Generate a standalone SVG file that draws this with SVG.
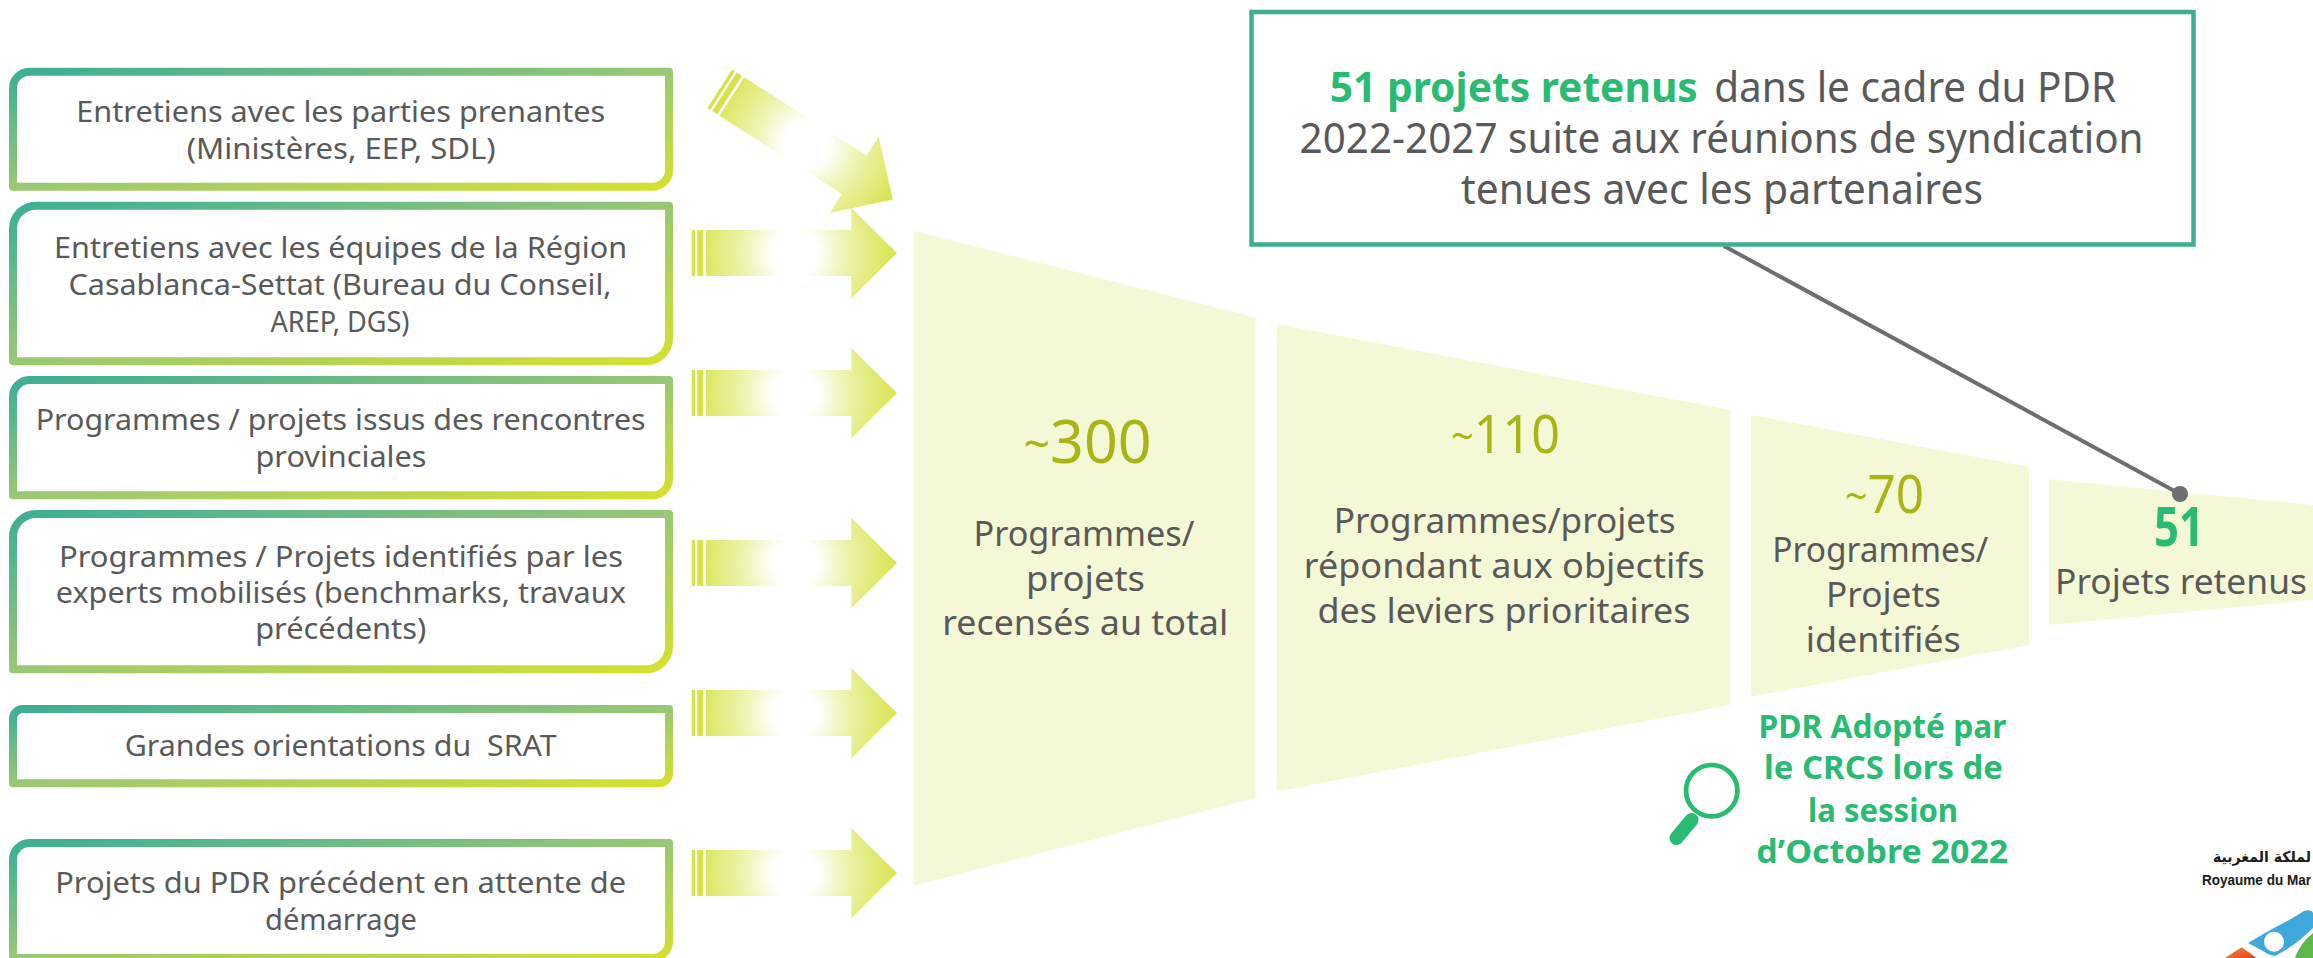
<svg xmlns="http://www.w3.org/2000/svg" width="2313" height="958" viewBox="0 0 2313 958">
<style>
text{font-family:"Noto Sans","Open Sans","DejaVu Sans",sans-serif;white-space:pre;text-anchor:middle}
.b{font-size:29.5px;fill:#595959}
.c{font-size:42px;fill:#595959}
.l{font-size:35px;fill:#595959}
.n{fill:#A9B515}
.g{fill:#2ABB72;font-weight:700}
.box{fill:#fff;stroke:url(#bg);stroke-width:8;stroke-linejoin:round}
.seg{fill:#F4F8D6}
.st{fill:#D8E145}
</style>
<defs>
<linearGradient id="bg" x1="0" y1="0" x2="1" y2="1">
<stop offset="0" stop-color="#3DAE95"/><stop offset=".5" stop-color="#98C874"/><stop offset="1" stop-color="#D6E02E"/>
</linearGradient>
<radialGradient id="ag" gradientUnits="userSpaceOnUse" cx="103" cy="0" r="103">
<stop offset="0" stop-color="#fff"/><stop offset=".22" stop-color="#fff"/><stop offset=".5" stop-color="#EEF3B0"/><stop offset=".85" stop-color="#DFE768"/><stop offset="1" stop-color="#D9E24A"/>
</radialGradient>
<g id="arrow">
<rect class="st" x="0" y="-22.9" width="3.3" height="45.8"/>
<rect class="st" x="5.6" y="-22.9" width="6" height="45.8"/>
<path fill="url(#ag)" d="M14.3-22.9H159.6V-45.3L205.3 0 159.6 45.3V22.9H14.3Z"/>
</g>
<linearGradient id="lg" x1="0" y1="0" x2="1" y2="1"><stop offset="0" stop-color="#F28C2E"/><stop offset="1" stop-color="#E2402B"/></linearGradient>
</defs>

<g id="funnel-1"><path class="seg" d="M913.9 230.8L1255.4 317.6V798L913.9 885.6Z"/>
<text class="n" x="1087.5" y="462.8" font-size="61" textLength="128" lengthAdjust="spacingAndGlyphs"><tspan font-size="48" dy="-2">~</tspan><tspan dy="2">300</tspan></text>
<text class="l" x="1084" y="546" textLength="221" lengthAdjust="spacingAndGlyphs">Programmes/</text>
<text class="l" x="1085.5" y="590.8" textLength="119" lengthAdjust="spacingAndGlyphs">projets</text>
<text class="l" x="1085.2" y="635.4" textLength="286" lengthAdjust="spacingAndGlyphs">recensés au total</text></g>

<g id="funnel-2"><path class="seg" d="M1276.7 324L1730.3 410V705L1276.7 791.5Z"/>
<text class="n" x="1505.5" y="453.3" font-size="53" textLength="109" lengthAdjust="spacingAndGlyphs"><tspan font-size="42" dy="-2">~</tspan><tspan dy="2">110</tspan></text>
<text class="l" x="1504.7" y="533" textLength="342" lengthAdjust="spacingAndGlyphs">Programmes/projets</text>
<text class="l" x="1504.3" y="577.8" textLength="401" lengthAdjust="spacingAndGlyphs">répondant aux objectifs</text>
<text class="l" x="1504" y="623" textLength="373" lengthAdjust="spacingAndGlyphs">des leviers prioritaires</text></g>

<g id="funnel-3"><path class="seg" d="M1751.3 415L2029 466.7V645L1751.3 696.7Z"/>
<text class="n" x="1884.5" y="513.3" font-size="53" textLength="79" lengthAdjust="spacingAndGlyphs"><tspan font-size="42" dy="-2">~</tspan><tspan dy="2">70</tspan></text>
<text class="l" x="1880.3" y="561.7" textLength="216" lengthAdjust="spacingAndGlyphs">Programmes/</text>
<text class="l" x="1883.5" y="606.7" textLength="115" lengthAdjust="spacingAndGlyphs">Projets</text>
<text class="l" x="1883.2" y="651.7" textLength="155" lengthAdjust="spacingAndGlyphs">identifiés</text></g>

<g id="funnel-4"><path class="seg" d="M2049 479.3L2313 505V600L2049 625Z"/>
<text class="g" x="2179" y="546" font-size="53" textLength="50" lengthAdjust="spacingAndGlyphs">51</text>
<text class="l" x="2181" y="594" textLength="252" lengthAdjust="spacingAndGlyphs">Projets retenus</text></g>

<g id="connectors">
<use href="#arrow" transform="translate(719.8 88.8) rotate(32.6)"/>
<use href="#arrow" transform="translate(691.7 253)"/>
<use href="#arrow" transform="translate(691.7 393)"/>
<use href="#arrow" transform="translate(691.7 563)"/>
<use href="#arrow" transform="translate(691.7 713)"/>
<use href="#arrow" transform="translate(691.7 873)"/>
<path d="M1724 246L2180 494" stroke="#6D6E71" stroke-width="4" fill="none"/>
<circle cx="2180" cy="494" r="8" fill="#6D6E71"/>
</g>

<g id="source-1"><path class="box" d="M29.5 71.7H669V170.2A16.5 16.5 0 0 1 652.5 186.7H13V88.2A16.5 16.5 0 0 1 29.5 71.7Z"/>
<text class="b" x="340.8" y="121.7" textLength="529" lengthAdjust="spacingAndGlyphs">Entretiens avec les parties prenantes</text>
<text class="b" x="341.2" y="159.3" textLength="309" lengthAdjust="spacingAndGlyphs">(Ministères, EEP, SDL)</text></g>

<g id="source-2"><path class="box" d="M36 205.7H669V338.3A23 23 0 0 1 646 361.3H13V228.7A23 23 0 0 1 36 205.7Z"/>
<text class="b" x="340.6" y="257.7" textLength="573" lengthAdjust="spacingAndGlyphs">Entretiens avec les équipes de la Région</text>
<text class="b" x="340" y="295" textLength="543" lengthAdjust="spacingAndGlyphs">Casablanca-Settat (Bureau du Conseil,</text>
<text class="b" x="340" y="332" textLength="139" lengthAdjust="spacingAndGlyphs">AREP, DGS)</text></g>

<g id="source-3"><path class="box" d="M29.5 380H669V478.8A16.5 16.5 0 0 1 652.5 495.3H13V396.5A16.5 16.5 0 0 1 29.5 380Z"/>
<text class="b" x="340.7" y="430" textLength="610" lengthAdjust="spacingAndGlyphs">Programmes / projets issus des rencontres</text>
<text class="b" x="341" y="467" textLength="171" lengthAdjust="spacingAndGlyphs">provinciales</text></g>

<g id="source-4"><path class="box" d="M36 514H669V646.3A23 23 0 0 1 646 669.3H13V537A23 23 0 0 1 36 514Z"/>
<text class="b" x="341" y="566.7" textLength="564" lengthAdjust="spacingAndGlyphs">Programmes / Projets identifiés par les</text>
<text class="b" x="340.8" y="602.7" textLength="570" lengthAdjust="spacingAndGlyphs">experts mobilisés (benchmarks, travaux</text>
<text class="b" x="340.7" y="639.3" textLength="171" lengthAdjust="spacingAndGlyphs">précédents)</text></g>

<g id="source-5"><path class="box" d="M22.7 709H669V773.6A9.7 9.7 0 0 1 659.3 783.3H13V718.7A9.7 9.7 0 0 1 22.7 709Z"/>
<text class="b" x="340.7" y="756" textLength="432" lengthAdjust="spacingAndGlyphs">Grandes orientations du  SRAT</text></g>

<g id="source-6"><path class="box" d="M29.5 843H669V941.5A16.5 16.5 0 0 1 652.5 958H13V859.5A16.5 16.5 0 0 1 29.5 843Z"/>
<text class="b" x="340.7" y="893.3" textLength="571" lengthAdjust="spacingAndGlyphs">Projets du PDR précédent en attente de</text>
<text class="b" x="341" y="930" textLength="152" lengthAdjust="spacingAndGlyphs">démarrage</text></g>

<g id="callout"><rect x="1251.5" y="12" width="942" height="232.5" fill="#fff" stroke="#3FAE93" stroke-width="4.5"/>
<text class="c g" x="1513.8" y="101.7" textLength="368" lengthAdjust="spacingAndGlyphs">51 projets retenus</text>
<text class="c" x="1915.2" y="101.7" textLength="402" lengthAdjust="spacingAndGlyphs">dans le cadre du PDR</text>
<text class="c" x="1721.6" y="153.3" textLength="844" lengthAdjust="spacingAndGlyphs">2022-2027 suite aux réunions de syndication</text>
<text class="c" x="1722" y="204" textLength="522" lengthAdjust="spacingAndGlyphs">tenues avec les partenaires</text></g>

<g id="adoption">
<circle cx="1711.7" cy="790.7" r="25.7" fill="none" stroke="#2ABB72" stroke-width="4.7"/>
<path d="M1695 817L1691 821" stroke="#2ABB72" stroke-width="5" fill="none"/>
<path d="M1691.5 820L1676.5 838" stroke="#2ABB72" stroke-width="14" stroke-linecap="round" fill="none"/>
<text class="g" x="1882.5" y="738.3" font-size="32" textLength="248" lengthAdjust="spacingAndGlyphs">PDR Adopté par</text>
<text class="g" x="1883.5" y="779.3" font-size="32" textLength="239" lengthAdjust="spacingAndGlyphs">le CRCS lors de</text>
<text class="g" x="1883" y="821.7" font-size="32" textLength="150" lengthAdjust="spacingAndGlyphs">la session</text>
<text class="g" x="1882.3" y="863.3" font-size="32" textLength="252" lengthAdjust="spacingAndGlyphs">d’Octobre 2022</text></g>

<g id="logo">
<text x="2262" y="861.7" font-size="15" fill="#1a1a1a" style="font-family:'DejaVu Sans',sans-serif;font-weight:700" textLength="98" lengthAdjust="spacingAndGlyphs">لملكة المغربية</text>
<text x="2256.5" y="885" font-size="14.5" fill="#1a1a1a" style="font-family:'Liberation Sans',sans-serif;font-weight:700" textLength="109" lengthAdjust="spacingAndGlyphs">Royaume du Mar</text>
<path fill="#3FA9DC" d="M2248 943L2272 929Q2290 920 2304 911Q2311 909 2313 913V928Q2295 946 2275 956Q2268 955 2263 951Z"/>
<circle cx="2274" cy="941.7" r="10" fill="#fff"/>
<path fill="#5CB947" d="M2313 933Q2300 943 2295 958H2313Z"/>
<path fill="url(#lg)" d="M2225 958L2241.7 947.3L2256.7 958Z"/>
</g>
</svg>
